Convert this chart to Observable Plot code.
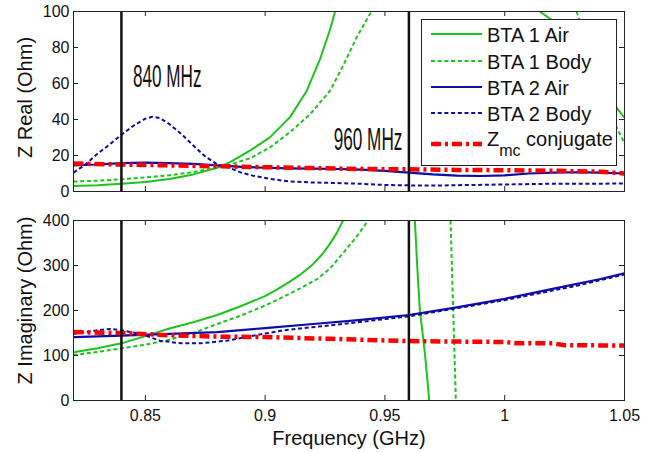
<!DOCTYPE html>
<html><head><meta charset="utf-8">
<script src="https://cdn.jsdelivr.net/npm/d3@7"></script>
<script src="https://cdn.jsdelivr.net/npm/@observablehq/plot@0.6"></script>
<style>
body{margin:0;background:#fff;}
#chart{position:relative;width:662px;height:452px;font-family:"Liberation Sans",Arial,sans-serif;}
#chart > svg{position:absolute;left:0;}
#legend{position:absolute;left:421px;top:19px;width:196px;height:147px;box-sizing:border-box;border:1px solid #222;background:#fff;}
</style></head><body><div id="chart"></div>
<script>
// ---- tick labels / categories ----
const freqTicks = [0.85, 0.9, 0.95, 1, 1.05];
const realTicks = [0, 20, 40, 60, 80, 100];
const imagTicks = [0, 100, 200, 300, 400];
const markerFreqs = [0.84, 0.96];
const markerLabels = ["840 MHz", "960 MHz"];
const markerLabelValues = [64, 29];
const seriesNames = ["BTA 1 Air", "BTA 1 Body", "BTA 2 Air", "BTA 2 Body", "Zmc conjugate"];

// ---- Z real part [GHz, Ohm] ----
const bta1AirReal = [[0.82,3.0],[0.83,3.5],[0.84,4.3],[0.85,5.3],[0.86,7],[0.87,9.5],[0.88,13.2],[0.8854,16.3],[0.8938,22.8],[0.9021,30.2],[0.9104,41.3],[0.9174,56],[0.9229,73.5],[0.9271,90],[0.9292,100],[0.97,NaN],[1.0146,100],[1.02,95],[1.03,77],[1.04,59],[1.047,46],[1.05,41]];
const bta1BodyReal = [[0.82,5.5],[0.83,6],[0.84,6.8],[0.85,7.8],[0.86,9],[0.87,10.8],[0.88,13.2],[0.8854,15],[0.8938,18.5],[0.9021,24.6],[0.9104,33],[0.9188,43],[0.9271,56],[0.9326,70],[0.9382,85.7],[0.9438,98.7],[0.9449,100],[0.98,NaN],[1.03,100],[1.035,80],[1.04,58],[1.045,40],[1.05,27]];
const bta2AirReal = [[0.82,14.5],[0.83,15],[0.84,15.8],[0.85,16],[0.86,15.8],[0.87,15.3],[0.88,14.5],[0.89,13.7],[0.9,13.2],[0.91,12.9],[0.92,12.7],[0.93,12.5],[0.94,12.2],[0.95,11.5],[0.96,10.5],[0.97,9.5],[0.98,8.8],[0.99,8.6],[1.0,9],[1.01,10],[1.02,10.5],[1.03,10.7],[1.04,10.5],[1.05,10]];
const bta2BodyReal = [[0.82,10.5],[0.825,15],[0.83,21],[0.835,26],[0.84,31.5],[0.845,36.5],[0.85,40.5],[0.853,41.5],[0.856,40.8],[0.86,37.5],[0.865,32],[0.87,25.5],[0.875,19.5],[0.88,15],[0.8854,13],[0.89,10.5],[0.895,8.8],[0.9021,7],[0.91,5.6],[0.92,5],[0.93,4.7],[0.94,4.3],[0.95,3.6],[0.96,3.4],[0.97,3.3],[0.98,3.5],[1.0,3.9],[1.02,4.3],[1.05,4.4]];
const zmcReal = [[0.82,15.5],[0.84,15],[0.86,14.5],[0.88,14],[0.9,13.5],[0.92,13],[0.94,12.5],[0.96,12.3],[0.98,12],[1.0,11.8],[1.02,11.5],[1.04,11],[1.05,10]];

// ---- Z imaginary part [GHz, Ohm] ----
const bta1AirImag = [[0.82,107],[0.83,116],[0.84,127],[0.85,143],[0.86,160],[0.87,174],[0.88,190],[0.89,210],[0.9,232],[0.905,247],[0.91,263],[0.915,281],[0.92,303],[0.924,326],[0.927,348],[0.93,373],[0.9325,400],[0.95,NaN],[0.9625,400],[0.9635,296],[0.9646,200],[0.9667,104],[0.9685,0]];
const bta1BodyImag = [[0.82,101],[0.83,108],[0.84,116],[0.85,124],[0.86,135],[0.87,150],[0.88,170],[0.89,189],[0.9,211],[0.9075,230],[0.9146,249],[0.9217,270],[0.927,293],[0.9326,328],[0.9382,364],[0.943,400],[0.96,NaN],[0.9774,400],[0.9785,200],[0.9796,0]];
const bta2AirImag = [[0.82,141],[0.84,144],[0.86,148],[0.88,152],[0.9,161],[0.92,170],[0.94,179],[0.96,190],[0.98,207],[1.0,226],[1.02,248],[1.04,270],[1.05,283]];
const bta2BodyImag = [[0.82,148],[0.83,156],[0.8354,159],[0.84,156],[0.848,148],[0.856,133],[0.865,127],[0.873,127],[0.884,133],[0.895,144],[0.9076,156],[0.927,167],[0.96,187],[1.0,223],[1.03,255],[1.05,280]];
const zmcImag = [[0.82,152],[0.84,150],[0.86,145],[0.88,142],[0.9,141],[0.927,137],[0.96,132],[0.98,131],[1.0,130],[1.005,127],[1.02,127],[1.025,123],[1.05,122]];

// ---- styles ----
const seriesColors = ["#1cc41c", "#1cc41c", "#0c0ca8", "#0c0ca8", "#ff0000"];
const seriesDash = [null, "4,2.7", null, "4,2.7", "10,4,3,4"];
const seriesWidth = [2, 2, 2.2, 2, 4.5];

const W = 662, ML = 73, MR = 38;
const PW = W - ML - MR;
const font = "'Liberation Sans', Arial, sans-serif";
const chart = document.getElementById("chart");

function panel({series, yDomain, yTicks, height, mt, mb, ylabel, ylabelDy, xlabels}) {
  const PH = height - mt - mb;
  const tick = {stroke: "#222", strokeOpacity: 1, strokeWidth: 1};
  const marks = [
    ...series.map((data, i) => Plot.line(data, {x: d => d[0], y: d => d[1], stroke: seriesColors[i], strokeWidth: seriesWidth[i], strokeDasharray: seriesDash[i], strokeLinecap: "butt", clip: true})),
    Plot.ruleX(markerFreqs, {stroke: "#111", strokeWidth: 2.5}),
    Plot.gridY(yTicks, {...tick, insetRight: PW - 5}),
    Plot.gridY(yTicks, {...tick, insetLeft: PW - 5}),
    Plot.gridX(freqTicks, {...tick, insetBottom: PH - 5}),
    Plot.gridX(freqTicks, {...tick, insetTop: PH - 5}),
    Plot.frame({stroke: "#222", strokeWidth: 1}),
    Plot.text(yTicks, {y: d => d, text: d => String(d), frameAnchor: "left", dx: -4, textAnchor: "end", lineAnchor: "middle", fontSize: 16}),
    Plot.text([ylabel], {text: d => d, frameAnchor: "left", dx: -48, dy: ylabelDy, rotate: -90, textAnchor: "middle", lineAnchor: "middle", fontSize: 20})
  ];
  if (xlabels) {
    marks.push(Plot.text(freqTicks, {x: d => d, text: d => String(d), frameAnchor: "bottom", dy: 15, textAnchor: "middle", lineAnchor: "middle", fontSize: 16}));
    marks.push(Plot.text(["Frequency (GHz)"], {text: d => d, frameAnchor: "bottom", dy: 38, textAnchor: "middle", lineAnchor: "middle", fontSize: 20}));
  }
  return Plot.plot({
    width: W, height,
    marginLeft: ML, marginRight: MR, marginTop: mt, marginBottom: mb,
    x: {domain: [0.82, 1.05], axis: null},
    y: {domain: yDomain, axis: null},
    style: {background: "transparent", fontFamily: font, color: "#111", overflow: "visible"},
    marks
  });
}

const topPanel = panel({
  series: [bta1AirReal, bta1BodyReal, bta2AirReal, bta2BodyReal, zmcReal],
  yDomain: [0, 100], yTicks: realTicks, height: 200, mt: 11, mb: 9,
  ylabel: "Z Real (Ohm)", ylabelDy: -4, xlabels: false
});
topPanel.style.top = "0px";
chart.appendChild(topPanel);

const bottomPanel = panel({
  series: [bta1AirImag, bta1BodyImag, bta2AirImag, bta2BodyImag, zmcImag],
  yDomain: [0, 400], yTicks: imagTicks, height: 252, mt: 20, mb: 52,
  ylabel: "Z Imaginary (Ohm)", ylabelDy: -10, xlabels: true
});
bottomPanel.style.top = "200px";
chart.appendChild(bottomPanel);

// marker annotations placed through the top panel's scales
const xs = topPanel.scale("x"), ys = topPanel.scale("y");
const annot = d3.select(topPanel).append("g").attr("font-family", font).attr("font-size", 22).attr("fill", "#111");
markerFreqs.forEach((f, i) => {
  const x = xs.apply(f) + (i === 0 ? 12 : -6);
  const y = ys.apply(markerLabelValues[i]);
  annot.append("text")
    .attr("transform", `translate(${x},${y}) scale(0.78,1.45)`)
    .attr("text-anchor", i === 0 ? "start" : "end")
    .attr("dy", "0.35em")
    .text(markerLabels[i]);
});

// legend
const legend = d3.select(chart).append("div").attr("id", "legend");
const lsvg = legend.append("svg").attr("width", 194).attr("height", 145).style("display", "block");
const rowY = [14, 41, 67, 93, 124];
seriesNames.forEach((name, i) => {
  lsvg.append("line").attr("x1", 9).attr("x2", 60).attr("y1", rowY[i]).attr("y2", rowY[i])
    .attr("stroke", seriesColors[i]).attr("stroke-width", seriesWidth[i])
    .attr("stroke-dasharray", seriesDash[i]);
  const t = lsvg.append("text").attr("x", 65).attr("y", rowY[i]).attr("dy", i === 4 ? "0.1em" : "0.4em")
    .attr("font-size", 20).attr("fill", "#111").attr("font-family", font);
  if (i === 4) {
    t.append("tspan").text("Z");
    t.append("tspan").attr("font-size", 16).attr("dy", 10).text("mc");
    t.append("tspan").attr("dy", -10).text(" conjugate");
  } else {
    t.text(name);
  }
});
</script></body></html>
